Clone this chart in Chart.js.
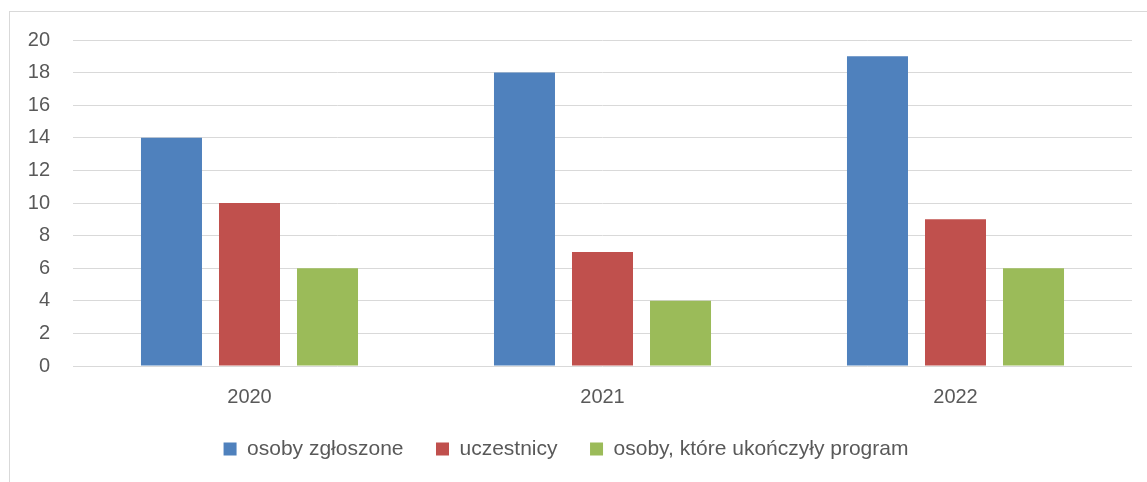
<!DOCTYPE html>
<html>
<head>
<meta charset="utf-8">
<script src="https://cdn.jsdelivr.net/npm/chart.js@4"></script>
<style>
    html, body { margin: 0; padding: 0; background: #fff; overflow: hidden; }
    .frame {
        position: absolute;
        left: 9px;
        top: 11px;
        width: 1200px;
        height: 600px;
        border: 1px solid #d9d9d9;
    }
    #chart { position: absolute; left: 0; top: 0; }
</style>
</head>
<body>
<div class="frame"></div>
<canvas id="chart" width="1147" height="482"></canvas>
<script>
// Chart data
const years = ['2020', '2021', '2022'];
const zgloszone = [14, 18, 19];
const uczestnicy = [10, 7, 9];
const ukonczyli = [6, 4, 6];
const seriesNames = ['osoby zgłoszone', 'uczestnicy', 'osoby, które ukończyły program'];
const seriesColors = ['#4f81bd', '#c0504d', '#9bbb59'];

const textColor = '#595959';
const fontFamily = '"Liberation Sans", Arial, sans-serif';

document.addEventListener('DOMContentLoaded', function() {
    'use strict';

    const ctx = document.getElementById('chart').getContext('2d');
    const values = [zgloszone, uczestnicy, ukonczyli];

    new Chart(ctx, {
        type: 'bar',
        data: {
            labels: years,
            datasets: values.map((data, i) => ({
                label: seriesNames[i],
                data: data,
                backgroundColor: seriesColors[i],
                borderWidth: 0,
                categoryPercentage: 0.663,
                barPercentage: 0.782
            }))
        },
        options: {
            responsive: false,
            animation: false,
            layout: {
                padding: { left: 0, right: 15, top: 40, bottom: 12.5 }
            },
            plugins: {
                tooltip: { enabled: false },
                legend: {
                    position: 'bottom',
                    labels: {
                        color: textColor,
                        font: { family: fontFamily, size: 21 },
                        boxWidth: 13,
                        boxHeight: 13,
                        padding: 32.5
                    }
                }
            },
            scales: {
                x: {
                    grid: { display: false },
                    border: { display: false },
                    ticks: {
                        color: textColor,
                        font: { family: fontFamily, size: 20 },
                        padding: 11
                    },
                    // labels get clipped to this box, keep it just tall enough
                    afterFit: function(scale) {
                        scale.height = 40;
                    }
                },
                y: {
                    min: 0,
                    max: 20,
                    ticks: {
                        stepSize: 2,
                        color: textColor,
                        font: { family: fontFamily, size: 20 },
                        padding: 23
                    },
                    grid: {
                        color: '#d9d9d9',
                        lineWidth: 1,
                        drawTicks: false
                    },
                    border: { display: false },
                    afterFit: function(scale) {
                        scale.width = 73;
                    }
                }
            }
        }
    });
});
</script>
</body>
</html>
